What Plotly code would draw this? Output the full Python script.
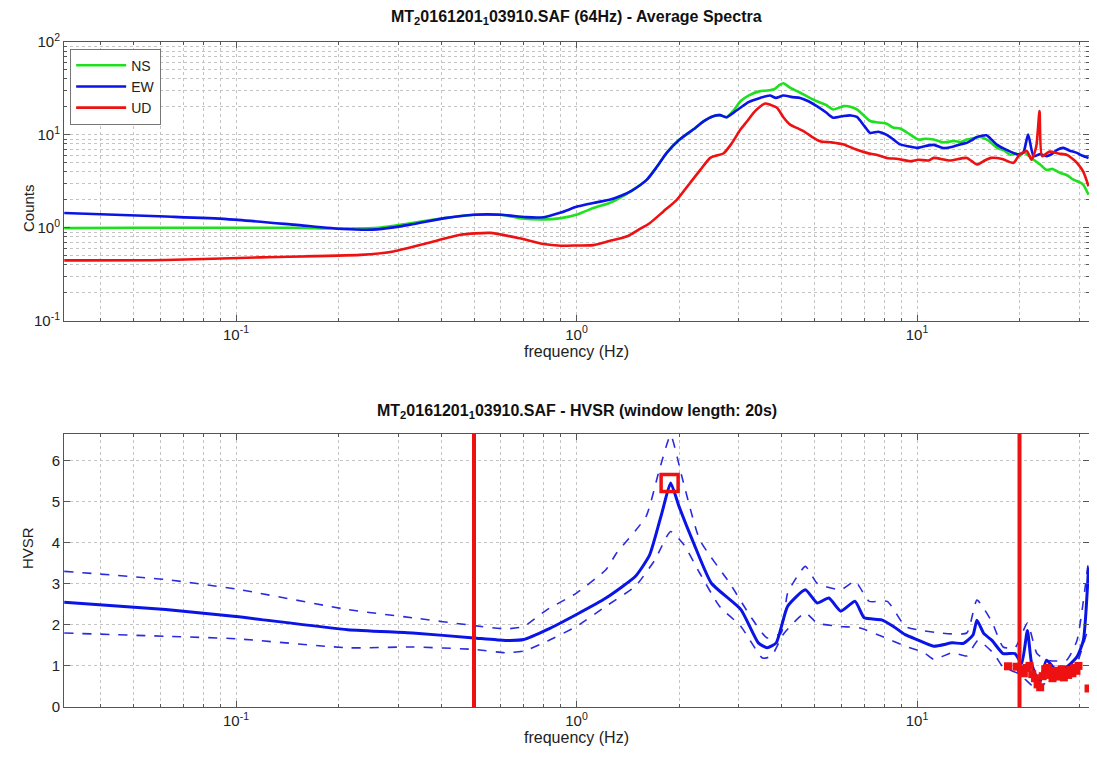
import plotly.graph_objects as go
import numpy as np

# ---------------- Data: Average spectra (top) ----------------
ns_freq = [0.0313, 0.05, 0.1, 0.148, 0.198, 0.26, 0.325, 0.41, 0.5, 0.6, 0.68, 0.8, 0.9, 1.01, 1.12,
           1.25, 1.34, 1.45, 1.61, 1.72, 1.84, 2.0, 2.2, 2.36, 2.52, 2.64, 2.76, 2.9, 3.03, 3.2,
           3.46, 3.64, 3.8, 3.95, 4.05, 4.25, 4.54, 4.8, 5.08, 5.4, 5.68, 6.09, 6.4, 6.66,
           7.0, 7.28, 7.7, 8.15, 8.5, 8.92, 9.5, 10.1, 10.6, 11.2, 12.0, 12.8, 13.5, 14.0,
           14.6, 15.3, 16.2, 17.2, 18.0, 18.8, 19.5, 20.0, 20.6, 21.0, 21.5, 22.0, 23.0,
           24.0, 25.0, 26.3, 27.5, 28.8, 30.0, 30.8, 31.9]
ns_vals = [0.99, 1.0, 1.0, 1.0, 0.98, 1.0, 1.12, 1.27, 1.38, 1.38, 1.27, 1.23, 1.27, 1.40, 1.63,
           1.85, 2.1, 2.5, 3.3, 4.5, 6.4, 8.8, 11.4, 14.0, 15.9, 16.3, 15.5, 18.5, 23.0, 26.5,
           29.6, 30.0, 31.0, 34.5, 36.0, 32.0, 28.4, 25.5, 23.0, 21.0, 18.8, 20.4, 20.0, 18.8,
           16.0, 14.1, 13.6, 13.2, 12.0, 11.7, 10.2, 8.9, 9.1, 8.9, 8.3, 8.6, 8.4, 8.9,
           9.2, 9.5, 8.7, 7.25, 6.8, 6.1, 6.3, 5.9, 6.5, 6.2, 5.8, 5.4, 4.8,
           4.2, 4.3, 3.9, 3.7, 3.3, 3.1, 2.9, 2.27]

ew_freq = [0.0313, 0.0622, 0.094, 0.148, 0.206, 0.26, 0.325, 0.41, 0.5, 0.6, 0.71, 0.8, 0.9, 1.01,
           1.12, 1.25, 1.34, 1.45, 1.61, 1.72, 1.84, 2.0, 2.2, 2.36, 2.52, 2.64, 2.76, 2.9, 3.03,
           3.2, 3.46, 3.7, 3.85, 4.05, 4.3, 4.54, 4.8, 5.08, 5.4, 5.68, 6.09, 6.4, 6.66, 7.0,
           7.28, 7.7, 8.15, 8.5, 8.92, 9.5, 10.0, 10.6, 11.2, 12.0, 12.8, 13.4, 14.0, 14.5,
           15.0, 16.0, 16.6, 17.2, 18.0, 18.8, 19.6, 20.5, 21.2, 22.0, 23.0, 24.0, 25.0, 25.8,
           26.9, 28.0, 29.5, 30.5, 31.9]
ew_vals = [1.44, 1.32, 1.24, 1.08, 0.97, 0.96, 1.08, 1.27, 1.38, 1.38, 1.3, 1.3, 1.46, 1.70,
           1.85, 2.0, 2.18, 2.5, 3.3, 4.5, 6.4, 8.8, 11.4, 14.0, 15.9, 16.3, 15.5, 17.5, 19.6,
           22.5, 25.0, 26.5, 25.0, 26.5, 25.5, 25.0, 23.0, 20.4, 17.5, 15.3, 16.0, 16.2, 15.6, 12.5,
           10.5, 10.8, 10.0, 9.0, 7.9, 7.5, 7.25, 7.6, 7.8, 7.2, 7.5, 7.9, 8.2, 8.8,
           9.5, 9.9, 8.8, 7.8, 7.1, 6.6, 6.2, 6.4, 10.1, 5.9, 6.2, 5.9, 6.3, 6.9,
           7.25, 6.8, 6.4, 6.0, 5.65]

ud_freq = [0.0313, 0.0622, 0.118, 0.232, 0.29, 0.363, 0.456, 0.558, 0.68, 0.8, 0.9, 1.01, 1.12,
           1.25, 1.41, 1.52, 1.64, 1.8, 1.97, 2.15, 2.31, 2.47, 2.58, 2.70, 2.85, 3.03, 3.17,
           3.31, 3.45, 3.58, 3.72, 3.88, 4.05, 4.24, 4.45, 4.64, 4.9, 5.19, 5.6, 6.09, 6.6,
           7.12, 7.6, 8.15, 8.8, 9.55, 10.1, 10.8, 11.2, 12.5, 14.0, 15.0, 15.8, 16.5, 17.8,
           19.2, 20.0, 21.0, 21.7, 22.4, 22.9, 23.3, 24.5, 26.0, 27.5, 28.5, 29.5, 30.8, 31.9]
ud_vals = [0.445, 0.45, 0.48, 0.51, 0.556, 0.68, 0.84, 0.88, 0.77, 0.667, 0.64, 0.645, 0.65,
           0.72, 0.81, 0.95, 1.12, 1.5, 2.0, 3.0, 4.2, 5.65, 6.0, 6.3, 8.0, 11.4, 14.0,
           17.3, 20.0, 21.8, 21.0, 19.6, 15.5, 12.9, 11.8, 11.0, 9.6, 8.55, 8.3, 7.9, 7.0,
           6.4, 6.1, 5.65, 5.5, 5.2, 5.4, 5.3, 5.65, 5.3, 5.65, 4.8, 5.3, 5.65, 5.5,
           5.0, 6.1, 6.7, 5.4, 7.5, 18.0, 5.9, 6.6, 6.3, 6.1, 5.6, 5.0, 4.0, 2.8]

# ---------------- Data: HVSR (bottom) ----------------
hv_freq = [0.0313, 0.0622, 0.1, 0.213, 0.33, 0.5, 0.62, 0.70, 0.82, 1.0, 1.22, 1.49, 1.64, 1.78,
           1.89, 2.0, 2.21, 2.49, 3.04, 3.42, 3.63, 3.86, 4.17, 4.70, 5.09, 5.51, 5.97, 6.58,
           7.0, 7.87, 8.53, 9.23, 10.0, 11.2, 12.7, 13.7, 14.6, 15.0, 15.7, 16.6, 17.9, 19.4,
           20.3, 21.1, 21.7, 22.9, 24.0, 25.7, 27.5, 29.5, 30.8, 31.9]
hv_mean = [2.55, 2.37, 2.2, 1.88, 1.80, 1.68, 1.62, 1.64, 1.88, 2.25, 2.65, 3.18, 3.70, 4.71,
           5.45, 4.88, 3.98, 3.01, 2.37, 1.56, 1.44, 1.56, 2.45, 2.85, 2.53, 2.65, 2.33, 2.57,
           2.17, 2.12, 1.96, 1.76, 1.64, 1.48, 1.56, 1.55, 1.75, 2.11, 1.79, 1.62, 1.30, 1.30,
           1.06, 1.86, 1.06, 0.58, 1.14, 0.89, 0.97, 1.22, 1.62, 3.4]

hv_up_freq = [0.0313, 0.0622, 0.1, 0.213, 0.33, 0.5, 0.62, 0.70, 0.82, 1.0, 1.22, 1.31, 1.6, 1.74,
              1.89, 2.04, 2.30, 2.82, 3.24, 3.63, 3.99, 4.17, 4.70, 5.09, 5.97, 6.58, 7.24, 8.18,
              9.23, 10.0, 11.7, 14.0, 15.0, 16.6, 17.9, 19.4, 21.1, 22.5, 24.0, 27.5, 29.5, 31.9]
hv_upper = [3.30, 3.10, 2.87, 2.37, 2.17, 1.98, 1.90, 1.96, 2.37, 2.77, 3.34, 3.74, 4.63, 5.68,
            6.61, 5.60, 4.07, 3.01, 2.21, 1.68, 1.80, 2.77, 3.42, 3.01, 2.85, 3.06, 2.57, 2.57,
            1.96, 1.88, 1.80, 1.80, 2.6, 2.07, 1.46, 1.44, 2.04, 1.30, 1.14, 1.14, 1.62, 3.57]

hv_lo_freq = [0.0313, 0.0622, 0.1, 0.213, 0.33, 0.5, 0.62, 0.70, 0.82, 1.0, 1.22, 1.49, 1.7, 1.89,
              2.07, 2.30, 2.63, 3.04, 3.52, 3.74, 4.05, 4.70, 5.09, 5.97, 6.8, 7.87, 9.23, 10.5,
              11.2, 12.7, 14.0, 15.1, 16.8, 17.9, 19.9, 22.7, 24.2, 27.5, 29.5, 31.9]
hv_lower = [1.80, 1.72, 1.66, 1.44, 1.46, 1.40, 1.32, 1.36, 1.60, 1.96, 2.45, 2.94, 3.58, 4.27,
            3.94, 3.26, 2.45, 1.96, 1.19, 1.24, 1.77, 2.29, 2.04, 1.96, 1.92, 1.72, 1.48, 1.32,
            1.16, 1.32, 1.24, 1.62, 1.30, 0.97, 0.81, 0.41, 0.65, 0.73, 1.06, 1.95]

low_freq = [18.5, 19.6, 20.2, 20.6, 21.0, 21.4, 21.8, 22.2, 22.6, 23.0, 23.4, 23.8, 24.2, 24.6,
            25.0, 25.4, 25.8, 26.2, 26.6, 27.0, 27.4, 27.8, 28.2, 28.6, 29.0, 29.4, 29.8, 31.9]
low_vals = [0.99, 0.98, 0.92, 0.82, 0.95, 1.0, 0.80, 0.70, 0.55, 0.48, 0.75, 0.92, 0.95, 0.78,
            0.70, 0.88, 0.74, 0.80, 0.92, 0.72, 0.85, 0.78, 0.90, 0.82, 0.95, 0.88, 1.0, 0.45]

peak_freq = [1.877]
peak_hvsr = [5.45]
freq_limits = [0.5, 20.0]

GREEN = "#1fe01f"
BLUE = "#0b14e6"
RED = "#ee1111"
DBLUE = "#2a2ae0"

fig = go.Figure()
fig.add_trace(go.Scatter(x=ns_freq, y=ns_vals, mode="lines", name="NS",
                         line=dict(color=GREEN, width=2.6, shape="spline", smoothing=0.6),
                         xaxis="x", yaxis="y"))
fig.add_trace(go.Scatter(x=ew_freq, y=ew_vals, mode="lines", name="EW",
                         line=dict(color=BLUE, width=2.6, shape="spline", smoothing=0.6),
                         xaxis="x", yaxis="y"))
fig.add_trace(go.Scatter(x=ud_freq, y=ud_vals, mode="lines", name="UD",
                         line=dict(color=RED, width=2.6, shape="spline", smoothing=0.6),
                         xaxis="x", yaxis="y"))

fig.add_trace(go.Scatter(x=hv_up_freq, y=hv_upper, mode="lines", showlegend=False,
                         line=dict(color=DBLUE, width=1.6, dash="dash", shape="spline", smoothing=0.5),
                         xaxis="x2", yaxis="y2"))
fig.add_trace(go.Scatter(x=hv_lo_freq, y=hv_lower, mode="lines", showlegend=False,
                         line=dict(color=DBLUE, width=1.6, dash="dash", shape="spline", smoothing=0.5),
                         xaxis="x2", yaxis="y2"))
fig.add_trace(go.Scatter(x=hv_freq, y=hv_mean, mode="lines", showlegend=False,
                         line=dict(color=BLUE, width=3, shape="spline", smoothing=0.5),
                         xaxis="x2", yaxis="y2"))
fig.add_trace(go.Scatter(x=low_freq, y=low_vals, mode="markers", showlegend=False,
                         marker=dict(color=RED, size=8, symbol="square"), xaxis="x2", yaxis="y2"))
fig.add_trace(go.Scatter(x=peak_freq, y=peak_hvsr, mode="markers", showlegend=False,
                         marker=dict(color=RED, size=17, symbol="square-open",
                                     line=dict(color=RED, width=3.5)), xaxis="x2", yaxis="y2"))

for f in freq_limits:
    fig.add_shape(type="line", xref="x2", yref="y2 domain", x0=f, x1=f, y0=0, y1=1,
                  line=dict(color=RED, width=4))

minor_x = [m * 10.0 ** e for e in range(-2, 2) for m in range(2, 10)]
minor_y = [m * 10.0 ** e for e in range(-1, 2) for m in range(2, 10)]
GRID = "#c4c4c4"
FONT = "Liberation Sans, Arial, sans-serif"

xcommon = dict(type="log", range=[np.log10(1 / 32), np.log10(32)], automargin=False,
               tickvals=[0.1, 1, 10], ticktext=["10<sup>-1</sup>", "10<sup>0</sup>", "10<sup>1</sup>"],
               showgrid=True, gridcolor=GRID, griddash="dot", gridwidth=1,
               showline=True, linecolor="#555", linewidth=1, mirror="ticks",
               ticks="inside", ticklen=6, tickcolor="#555",
               minor=dict(tickvals=minor_x, ticks="inside", ticklen=3, tickcolor="#555",
                          showgrid=True, gridcolor=GRID, griddash="dot", gridwidth=1),
               tickfont=dict(size=15, color="#222", family=FONT), zeroline=False,
               title=dict(text="frequency (Hz)", font=dict(size=16, color="#222", family=FONT), standoff=2))

# page body has an 8px margin, so the figure is sized/placed to compensate
fig.update_layout(
    width=1089, height=757,
    margin=dict(l=56, r=8, t=34, b=58),
    paper_bgcolor="white", plot_bgcolor="white",
    font=dict(family=FONT, color="#222"),
    xaxis=dict(**xcommon, domain=[0, 1], anchor="y"),
    xaxis2=dict(**xcommon, domain=[0, 1], anchor="y2"),
    yaxis=dict(type="log", range=[-1, 2], domain=[0.581, 1.0], anchor="x", automargin=False,
               tickvals=[0.1, 1, 10, 100],
               ticktext=["10<sup>-1</sup>", "10<sup>0</sup>", "10<sup>1</sup>", "10<sup>2</sup>"],
               showgrid=True, gridcolor=GRID, griddash="dot",
               showline=True, linecolor="#555", linewidth=1, mirror="ticks",
               ticks="inside", ticklen=6, tickcolor="#555",
               minor=dict(tickvals=minor_y, ticks="inside", ticklen=3, tickcolor="#555",
                          showgrid=True, gridcolor=GRID, griddash="dot"),
               tickfont=dict(size=15, color="#222", family=FONT), zeroline=False),
    yaxis2=dict(range=[0, 6.64], domain=[0, 0.4105], anchor="x2", automargin=False,
                tickvals=[0, 1, 2, 3, 4, 5, 6],
                showgrid=True, gridcolor=GRID, griddash="dot",
                showline=True, linecolor="#555", linewidth=1, mirror="ticks",
                ticks="inside", ticklen=6, tickcolor="#555",
                tickfont=dict(size=15, color="#222", family=FONT), zeroline=False),
    legend=dict(x=0.006, y=0.99, xanchor="left", yanchor="top",
                bgcolor="white", bordercolor="#777", borderwidth=1, itemwidth=50,
                font=dict(size=14, color="#222", family=FONT), tracegroupgap=0),
    annotations=[
        dict(text="<b>MT<sub>2</sub>0161201<sub>1</sub>03910.SAF (64Hz) - Average Spectra</b>",
             xref="paper", yref="paper", x=0.5, y=1.037, showarrow=False, yanchor="middle",
             font=dict(size=16, color="#111", family=FONT)),
        dict(text="<b>MT<sub>2</sub>0161201<sub>1</sub>03910.SAF - HVSR (window length: 20s)</b>",
             xref="paper", yref="paper", x=0.5, y=0.444, showarrow=False, yanchor="middle",
             font=dict(size=16, color="#111", family=FONT)),
        dict(text="Counts", xref="paper", yref="paper", x=-0.045, y=0.79, textangle=-90,
             showarrow=False, font=dict(size=15, color="#222", family=FONT)),
        dict(text="HVSR", xref="paper", yref="paper", x=-0.046, y=0.205, textangle=-90,
             showarrow=False, font=dict(size=15, color="#222", family=FONT)),
    ],
)

fig.write_html("out.html")
